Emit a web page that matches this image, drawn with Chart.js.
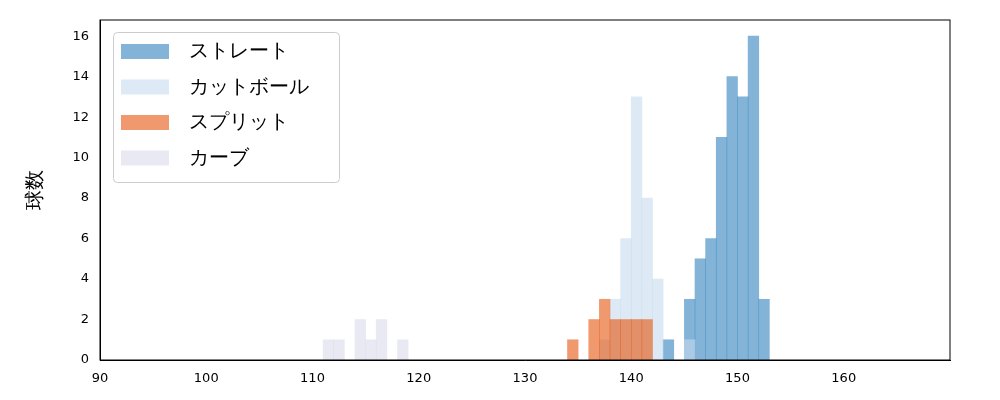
<!DOCTYPE html>
<html>
<head>
<meta charset="utf-8">
<script src="https://cdn.jsdelivr.net/npm/chart.js@4"></script>
<style>body{margin:0;background:#fff}#wrap{width:1000px;height:400px}</style>
</head>
<body>
<div id="wrap"><canvas id="c"></canvas></div>
<script>
// bin left edges (1 km/h bins) and counts
const straightBins = [143, 145, 146, 147, 148, 149, 150, 151, 152];
const straightCounts = [1, 3, 5, 6, 11, 14, 13, 16, 3];
const cutBins = [137, 138, 139, 140, 141, 142, 145];
const cutCounts = [1, 3, 6, 13, 8, 4, 1];
const splitBins = [134, 136, 137, 138, 139, 140, 141];
const splitCounts = [1, 2, 3, 2, 2, 2, 2];
const curveBins = [111, 112, 114, 115, 116, 118];
const curveCounts = [1, 1, 2, 1, 2, 1];
const labels = ["ストレート", "カットボール", "スプリット", "カーブ"];
const colors = ["rgba(49,130,189,0.6)", "rgba(198,219,239,0.6)", "rgba(230,85,13,0.6)", "rgba(218,218,235,0.6)"];

function pts(bins, counts) {
  return bins.map((b, i) => ({x: b + 0.5, y: counts[i]}));
}

const font = "'DejaVu Sans', sans-serif";

const legendBox = {
  id: "legendBox",
  afterDatasetsDraw(chart) {
    const c = chart.ctx;
    const x0 = 113, y0 = 32, w = 226, h = 150;
    c.save();
    c.fillStyle = "rgba(255,255,255,0.8)";
    c.strokeStyle = "#cccccc";
    c.lineWidth = 1;
    c.beginPath();
    c.roundRect(x0 + 0.5, y0 + 0.5, w, h, 4);
    c.fill();
    c.stroke();
    c.font = "20px " + font;
    c.textBaseline = "middle";
    labels.forEach((l, i) => {
      const yy = y0 + 19 + i * 35.5;
      c.fillStyle = colors[i];
      c.fillRect(x0 + 8, yy - 7, 48, 15);
      c.fillStyle = "#000";
      c.fillText(l, x0 + 76, yy + 1);
    });
    c.restore();
  }
};

new Chart(document.getElementById("c"), {
  type: "bar",
  data: {
    datasets: [
      {label: labels[0], data: pts(straightBins, straightCounts), backgroundColor: colors[0], order: 4},
      {label: labels[1], data: pts(cutBins, cutCounts), backgroundColor: colors[1], order: 3},
      {label: labels[2], data: pts(splitBins, splitCounts), backgroundColor: colors[2], order: 2},
      {label: labels[3], data: pts(curveBins, curveCounts), backgroundColor: colors[3], order: 1}
    ]
  },
  options: {
    responsive: true,
    maintainAspectRatio: false,
    animation: false,
    layout: {padding: {left: 20, right: 50, top: 20, bottom: 0}},
    datasets: {bar: {grouped: false, barPercentage: 1, categoryPercentage: 1, borderWidth: 0}},
    plugins: {legend: {display: false}, tooltip: {enabled: false}},
    scales: {
      x: {
        type: "linear", min: 90, max: 170, offset: false,
        grid: {display: false, drawTicks: true},
        border: {color: "#000"},
        ticks: {stepSize: 10, color: "#000", font: {size: 13, family: font},
          callback: v => v <= 160 ? v : ""},
        afterFit: s => { s.height = 40; }
      },
      y: {
        min: 0, max: 16.8,
        grid: {display: false},
        border: {color: "#000"},
        ticks: {stepSize: 2, color: "#000", font: {size: 13, family: font},
          callback: v => v % 2 === 0 ? v : ""},
        title: {display: true, text: "球数", color: "#000", font: {size: 20, family: font}},
        afterFit: s => { s.width = 80; }
      }
    }
  },
  plugins: [legendBox, {
    id: "frame",
    afterDraw(chart) {
      const a = chart.chartArea, c = chart.ctx;
      c.save(); c.strokeStyle = "#000"; c.lineWidth = 1;
      c.strokeRect(a.left, a.top, a.right - a.left, a.bottom - a.top);
      c.restore();
    }
  }]
});
</script>
</body>
</html>
